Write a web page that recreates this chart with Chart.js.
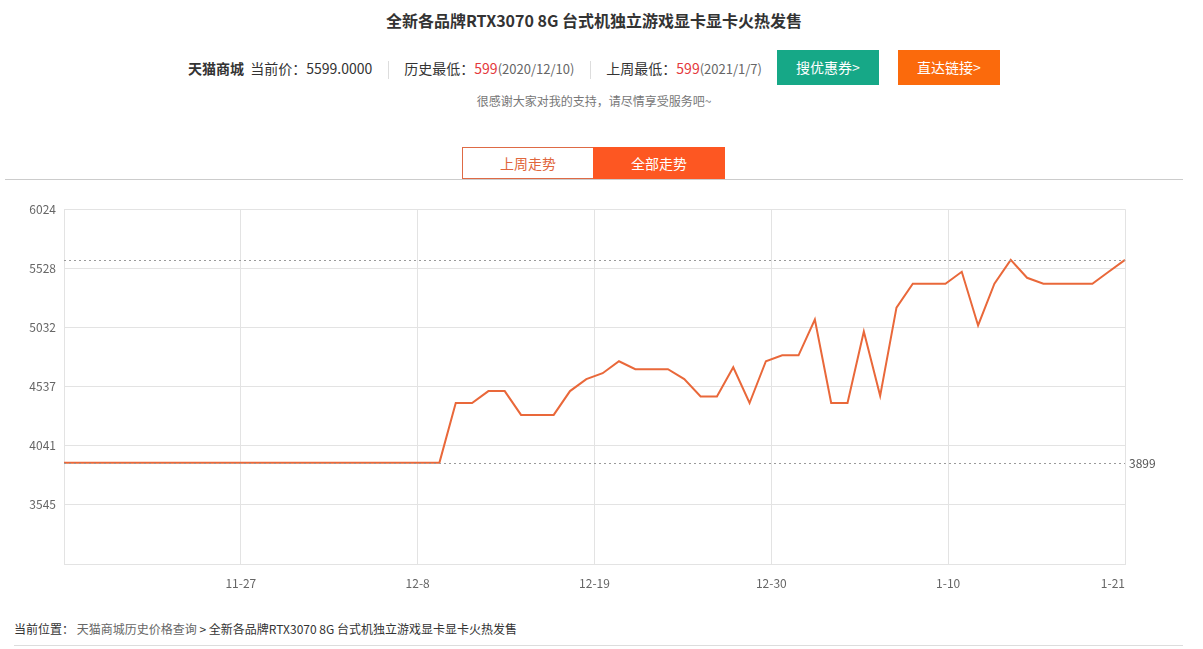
<!DOCTYPE html>
<html>
<head>
<meta charset="utf-8">
<script src="https://cdn.jsdelivr.net/npm/chart.js@4"></script>
<style>
  html, body { margin:0; padding:0; background:#fff; }
  body { width:1203px; height:649px; position:relative; overflow:hidden;
         font-family:"Noto Sans CJK SC","Noto Sans",sans-serif; color:#333; }
  .abs { position:absolute; white-space:nowrap; }
  #title { left:0; width:1188px; top:8px; text-align:center; font-size:16px; font-weight:bold; color:#333; line-height:24px; }
  #info { left:188px; top:57px; font-size:14px; line-height:22px; color:#333; }
  #info b { font-weight:bold; }
  #info .red { color:#e4393c; }
  #info .sm { font-size:13px; color:#666; }
  #info .sep { display:inline-block; width:1px; height:18px; background:#ddd; vertical-align:middle; margin:0 15px 0 16px; }
  .btn { top:50px; height:35px; width:102px; line-height:35px; text-align:center; color:#fff; font-size:14px; }
  #btn1 { left:777px; background:#16a887; }
  #btn2 { left:898px; background:#fb6a0c; }
  #sub { left:0; width:1188px; top:92px; text-align:center; font-size:12px; color:#777; line-height:18px; }
  .tab { top:147px; height:30px; width:130px; line-height:30px; text-align:center; font-size:14px; }
  #tab1 { left:462px; border:1px solid #de6a45; color:#e0663c; background:#fff; }
  #tab2 { left:593px; width:132px; height:32px; line-height:32px; background:#fd5722; color:#fff; }
  #hline { left:5px; top:179px; width:1178px; height:1px; background:#ccc; }
  #chartBox { position:absolute; left:0; top:194px; width:1170px; height:406px; }
  #crumb { left:14px; top:620px; font-size:12px; line-height:18px; color:#333; }
  #crumb .g { color:#666; }
  #bline { left:14px; top:645px; width:1169px; height:1px; background:#ddd; }
</style>
</head>
<body>
<div class="abs" id="title">全新各品牌RTX3070 8G 台式机独立游戏显卡显卡火热发售</div>
<div class="abs" id="info"><b>天猫商城</b>&nbsp; 当前价：5599.0000<span class="sep"></span>历史最低：<span class="red">599</span><span class="sm">(2020/12/10)</span><span class="sep"></span>上周最低：<span class="red">599</span><span class="sm">(2021/1/7)</span></div>
<div class="abs btn" id="btn1">搜优惠券&gt;</div>
<div class="abs btn" id="btn2">直达链接&gt;</div>
<div class="abs" id="sub">很感谢大家对我的支持，请尽情享受服务吧~</div>
<div class="abs tab" id="tab1">上周走势</div>
<div class="abs tab" id="tab2">全部走势</div>
<div class="abs" id="hline"></div>
<div id="chartBox"><canvas id="c"></canvas></div>
<div class="abs" id="crumb">当前位置：&nbsp;<span class="g">天猫商城历史价格查询</span> &gt; 全新各品牌RTX3070 8G 台式机独立游戏显卡显卡火热发售</div>
<div class="abs" id="bline"></div>

<script>
// ---- data ----
const prices = [
  3899,3899,3899,3899,3899,3899,3899,3899,3899,3899,
  3899,3899,3899,3899,3899,3899,3899,3899,3899,3899,
  3899,3899,3899,3899,4399,4399,4499,4499,4299,4299,
  4299,4499,4599,4649,4749,4683,4683,4683,4599,4454,
  4454,4699,4399,4749,4799,4799,5099,4399,4399,4999,
  4459,5199,5399,5399,5399,5499,5049,5399,5599,5449,
  5399,5399,5399,5399,5499,5599
];
const pointIndex = prices.map((_, i) => i);

const xTickDays   = [0, 11, 22, 33, 44, 55, 66];          // days since 11-16
const xTickLabels = ['', '11-27', '12-8', '12-19', '12-30', '1-10', '1-21'];
const xDayMax = 66;

const yTickValues = [3049, 3545, 4041, 4537, 5032, 5528, 6024];
const yTickLabels = ['', '3545', '4041', '4537', '5032', '5528', '6024'];

const refValues = [5599, 3899];
const refLabels = ['', '3899'];

// ---- chart ----
Chart.defaults.font.family = '"Noto Sans CJK SC","Noto Sans",sans-serif';
Chart.defaults.font.size = 12;
Chart.defaults.color = '#666';

const refLinePlugin = {
  id: 'refLines',
  afterDatasetsDraw(chart) {
    const {ctx, chartArea, scales} = chart;
    ctx.save();
    refValues.forEach((v, i) => {
      const y = Math.round(scales.y.getPixelForValue(v)) + 0.5;
      ctx.strokeStyle = '#9a9a9a';
      ctx.lineWidth = 1;
      ctx.setLineDash([2, 3]);
      ctx.beginPath();
      ctx.moveTo(chartArea.left, y);
      ctx.lineTo(chartArea.right, y);
      ctx.stroke();
      if (refLabels[i]) {
        ctx.setLineDash([]);
        ctx.fillStyle = '#555';
        ctx.font = '12px "Noto Sans CJK SC","Noto Sans",sans-serif';
        ctx.textAlign = 'left';
        ctx.textBaseline = 'middle';
        ctx.fillText(refLabels[i], chartArea.right + 4, y);
      }
    });
    ctx.restore();
  }
};

new Chart(document.getElementById('c'), {
  type: 'line',
  data: {
    labels: pointIndex,
    datasets: [{
      data: prices,
      xAxisID: 'x',
      yAxisID: 'y',
      borderColor: '#e9683a',
      borderWidth: 2,
      pointRadius: 0,
      tension: 0,
      fill: false
    }]
  },
  options: {
    responsive: true,
    maintainAspectRatio: false,
    animation: false,
    layout: { padding: { top: 10, right: 45, left: 0, bottom: 0 } },
    plugins: { legend: { display: false }, tooltip: { enabled: false } },
    scales: {
      x: { type: 'category', display: false, offset: false },
      xd: {
        type: 'linear', position: 'bottom', min: 0, max: xDayMax,
        afterBuildTicks(s) { s.ticks = xTickDays.map(v => ({ value: v })); },
        afterFit(s) { s.height = 36; },
        ticks: {
          padding: 12, color: '#666', maxRotation: 0, autoSkip: false, align: 'inner',
          callback(v) { const k = xTickDays.indexOf(v); return k >= 0 ? xTickLabels[k] : ''; }
        },
        grid: { color: '#e3e3e3', drawTicks: false },
        border: { color: '#e3e3e3' }
      },
      y: {
        type: 'linear', min: yTickValues[0], max: yTickValues[yTickValues.length - 1],
        afterBuildTicks(s) { s.ticks = yTickValues.map(v => ({ value: v })); },
        afterFit(s) { s.width = 64; },
        ticks: {
          padding: 8, color: '#666',
          callback(v) { const k = yTickValues.indexOf(v); return k >= 0 ? yTickLabels[k] : ''; }
        },
        grid: { color: '#e3e3e3', drawTicks: false },
        border: { color: '#e3e3e3' }
      }
    }
  },
  plugins: [refLinePlugin]
});
</script>
</body>
</html>
